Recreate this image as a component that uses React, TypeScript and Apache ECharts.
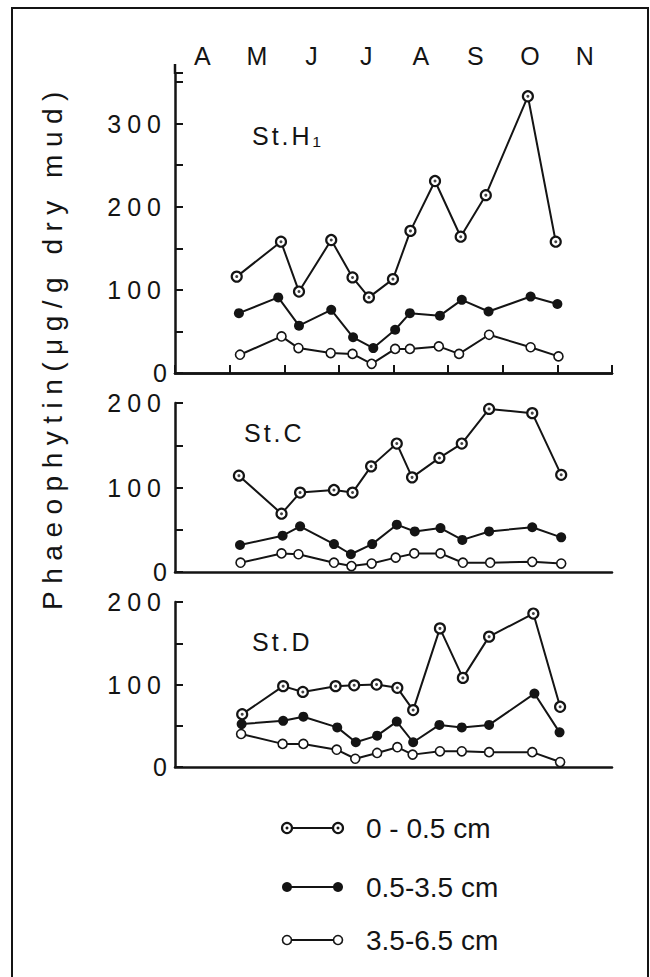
import React, { useEffect, useRef } from "react";
import * as echarts from "echarts";

// Month axis (top), sampling layers, stations
const months = ["A", "M", "J", "J", "A", "S", "O", "N"];
const layerNames = ["0 - 0.5 cm", "0.5-3.5 cm", "3.5-6.5 cm"];
const stationNames = ["St.H₁", "St.C", "St.D"];
const yMaxes = [361, 200, 200];
const yTitle = "Phaeophytin(μg/g dry mud)";

// x values: months elapsed since 1 April
const h1Date0 = [1.13, 1.94, 2.27, 2.86, 3.25, 3.55, 3.99, 4.31, 4.76, 5.23, 5.69, 6.46, 6.97];
const h1Val0 = [116, 158, 98, 160, 115, 91, 113, 171, 231, 164, 214, 333, 158];
const h1Date1 = [1.17, 1.89, 2.27, 2.86, 3.26, 3.63, 4.03, 4.3, 4.85, 5.25, 5.74, 6.51, 7.0];
const h1Val1 = [72, 91, 57, 76, 43, 30, 52, 72, 69, 88, 74, 92, 83];
const h1Date2 = [1.19, 1.95, 2.26, 2.85, 3.25, 3.6, 4.03, 4.3, 4.83, 5.2, 5.75, 6.51, 7.02];
const h1Val2 = [22, 44, 30, 24, 23, 11, 29, 29, 32, 23, 46, 31, 20];

const cDate0 = [1.17, 1.95, 2.29, 2.91, 3.25, 3.59, 4.06, 4.34, 4.84, 5.25, 5.75, 6.54, 7.07];
const cVal0 = [114, 69, 94, 97, 94, 125, 152, 112, 135, 152, 193, 188, 115];
const cDate1 = [1.19, 1.97, 2.29, 2.91, 3.22, 3.61, 4.06, 4.39, 4.86, 5.26, 5.75, 6.54, 7.07];
const cVal1 = [32, 43, 54, 33, 21, 33, 56, 48, 52, 38, 48, 53, 41];
const cDate2 = [1.2, 1.95, 2.26, 2.91, 3.23, 3.6, 4.04, 4.38, 4.86, 5.27, 5.77, 6.54, 7.07];
const cVal2 = [11, 22, 21, 11, 7, 10, 17, 22, 22, 11, 11, 12, 10];

const dDate0 = [1.23, 1.98, 2.34, 2.94, 3.28, 3.69, 4.07, 4.36, 4.85, 5.27, 5.75, 6.56, 7.05];
const dVal0 = [64, 98, 91, 98, 99, 100, 96, 69, 168, 108, 158, 186, 73];
const dDate1 = [1.22, 1.98, 2.35, 2.97, 3.31, 3.7, 4.06, 4.36, 4.84, 5.25, 5.75, 6.58, 7.04];
const dVal1 = [52, 56, 61, 48, 30, 38, 55, 30, 51, 48, 51, 89, 42];
const dDate2 = [1.21, 1.97, 2.35, 2.96, 3.3, 3.7, 4.07, 4.35, 4.85, 5.25, 5.75, 6.54, 7.05];
const dVal2 = [40, 28, 28, 21, 10, 17, 24, 15, 19, 19, 18, 18, 6];

const stationData = [
  [[h1Date0, h1Val0], [h1Date1, h1Val1], [h1Date2, h1Val2]],
  [[cDate0, cVal0], [cDate1, cVal1], [cDate2, cVal2]],
  [[dDate0, dVal0], [dDate1, dVal1], [dDate2, dVal2]],
];

const INK = "#141414";
const FONT = "Liberation Sans, Arial, sans-serif";

const layerSymbolStyle = [
  { size: 10, style: { color: "#fff", borderColor: INK, borderWidth: 2.2 } },
  { size: 10, style: { color: INK, borderColor: INK, borderWidth: 0 } },
  { size: 9, style: { color: "#fff", borderColor: INK, borderWidth: 1.6 } },
];

export default function App() {
  const ref = useRef<HTMLDivElement>(null);

  useEffect(() => {
    if (!ref.current) return;
    const chart = echarts.init(ref.current, undefined, { renderer: "svg" });

    const grids = [
      { left: 175, top: 73, width: 437, height: 300 },
      { left: 175, top: 403, width: 437, height: 169 },
      { left: 175, top: 602, width: 437, height: 165 },
    ];

    const xAxes: any[] = [
      {
        type: "category",
        gridIndex: 0,
        position: "top",
        data: months,
        boundaryGap: true,
        axisLine: { show: true, lineStyle: { color: INK, width: 2.5 } },
        axisTick: { show: true, inside: false, length: 8, interval: 0, alignWithLabel: false, lineStyle: { color: INK, width: 2 } },
        axisLabel: { show: true, interval: 0, margin: 5, fontSize: 25, fontFamily: FONT, color: INK },
        splitLine: { show: false },
      },
    ];
    grids.forEach((_, gi) => {
      xAxes.push({
        type: "value",
        gridIndex: gi,
        position: "bottom",
        min: 0,
        max: 8,
        interval: 1,
        axisLine: { show: true, onZero: false, lineStyle: { color: INK, width: 2.5 } },
        axisTick: { show: false },
        axisLabel: { show: false },
        splitLine: { show: false },
      });
    });

    const yAxes = yMaxes.map((mx, gi) => ({
      type: "value",
      gridIndex: gi,
      min: 0,
      max: mx,
      interval: 50,
      axisLine: { show: true, lineStyle: { color: INK, width: 2.5 } },
      axisTick: { show: true, inside: true, length: 8, lineStyle: { color: INK, width: 2 } },
      axisLabel: {
        show: true,
        margin: 8,
        fontSize: 25,
        fontFamily: FONT,
        color: INK,
        formatter: (v: number) => (v % 100 === 0 ? String(v) : ""),
      },
      splitLine: { show: false },
    }));

    const series: any[] = [];
    stationData.forEach((layers, gi) => {
      layers.forEach(([dates, vals], li) => {
        const data = dates.map((d, k) => [d, vals[k]]);
        series.push({
          type: "line",
          name: layerNames[li],
          xAxisIndex: gi + 1,
          yAxisIndex: gi,
          data,
          symbol: "circle",
          symbolSize: layerSymbolStyle[li].size,
          showAllSymbol: true,
          lineStyle: { color: INK, width: 2 },
          itemStyle: layerSymbolStyle[li].style,
          emphasis: { disabled: true },
          z: 3 + li,
        });
        if (li === 0) {
          series.push({
            type: "scatter",
            xAxisIndex: gi + 1,
            yAxisIndex: gi,
            data,
            symbol: "circle",
            symbolSize: 3,
            itemStyle: { color: INK },
            emphasis: { disabled: true },
            silent: true,
            z: 10,
          });
        }
      });
    });

    const titlePos = [
      { x: 252, y: 136 },
      { x: 244, y: 433 },
      { x: 252, y: 642 },
    ];

    const legendY = [828, 887, 940];
    const legendEls: any[] = [];
    layerNames.forEach((name, li) => {
      const y = legendY[li];
      const st = layerSymbolStyle[li].style;
      const r = layerSymbolStyle[li].size / 2;
      legendEls.push({ type: "line", shape: { x1: 287, y1: y, x2: 338, y2: y }, style: { stroke: INK, lineWidth: 1.8 } });
      [287, 338].forEach((cx) => {
        legendEls.push({
          type: "circle",
          shape: { cx, cy: y, r },
          style: { fill: st.color, stroke: INK, lineWidth: st.borderWidth || 0 },
          z: 5,
        });
        if (li === 0) {
          legendEls.push({ type: "circle", shape: { cx, cy: y, r: 1.5 }, style: { fill: INK }, z: 6 });
        }
      });
      legendEls.push({
        type: "text",
        x: 366,
        y,
        style: { text: name, fontSize: 28, fontFamily: FONT, fill: INK, textAlign: "left", textVerticalAlign: "middle" },
      });
    });

    chart.setOption({
      animation: false,
      backgroundColor: "#fff",
      grid: grids,
      xAxis: xAxes,
      yAxis: yAxes,
      series,
      graphic: [
        {
          type: "rect",
          shape: { x: 12, y: 8, width: 636, height: 985 },
          style: { fill: "none", stroke: INK, lineWidth: 2 },
          silent: true,
        },
        {
          type: "line",
          shape: { x1: 175, y1: 64, x2: 175, y2: 74 },
          style: { stroke: INK, lineWidth: 2.5 },
          silent: true,
        },
        {
          type: "text",
          x: 52,
          y: 347,
          rotation: Math.PI / 2,
          style: { text: yTitle, fontSize: 28, fontFamily: FONT, fill: INK, textAlign: "center", textVerticalAlign: "middle" },
        },
        ...stationNames.map((s, i) => ({
          type: "text",
          x: titlePos[i].x,
          y: titlePos[i].y,
          style: { text: s, fontSize: 25, fontFamily: FONT, fill: INK, textAlign: "left", textVerticalAlign: "middle" },
        })),
        ...legendEls,
      ],
    });

    // widen the letter spacing of the spaced-out lettering of the original
    const svg = ref.current.querySelector("svg");
    if (svg) {
      svg.querySelectorAll("text").forEach((t) => {
        const s = t.textContent || "";
        if (s === yTitle) t.setAttribute("letter-spacing", "7.5");
        else if (/^\d{3}$/.test(s)) t.setAttribute("letter-spacing", "6");
        else if (stationNames.includes(s)) t.setAttribute("letter-spacing", "3");
      });
    }

    return () => chart.dispose();
  }, []);

  return <div ref={ref} style={{ position: "absolute", left: 0, top: 0, width: 650, height: 977 }} />;
}
